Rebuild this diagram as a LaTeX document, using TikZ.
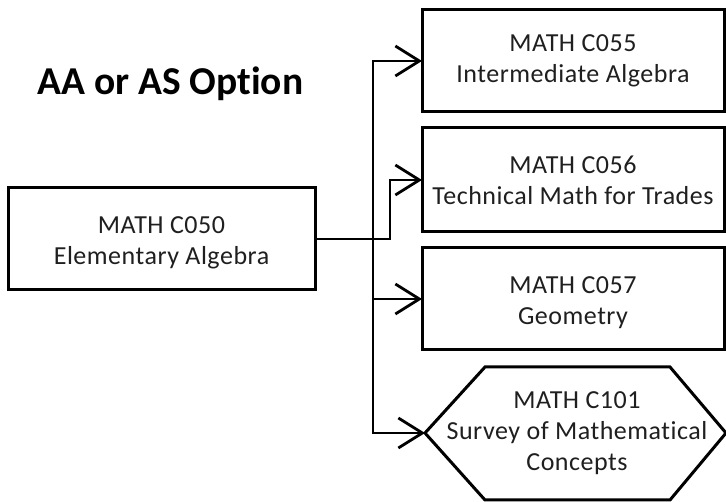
\documentclass[tikz,border=0pt]{standalone}
\usepackage{fontspec}
\setmainfont{Carlito}[Ligatures={NoCommon},LetterSpace=2.0]
\newfontfamily\titlefont{Carlito}[Ligatures={NoCommon}]
\usetikzlibrary{arrows.meta}
\begin{document}
\begin{tikzpicture}[x=1pt,y=-1pt,
  course/.style={draw=black,line width=3pt,fill=white,
    inner sep=0pt,outer sep=0pt},
  coursetext/.style={align=center,inner sep=0pt,text=black!88,font=\fontsize{26}{31}\selectfont},
  conn/.style={draw=black,line width=2.8pt,
    -{Straight Barb[length=24pt,width=30pt,line width=2.8pt]}}]
\useasboundingbox (0,0) rectangle (726,502);
\node[course,minimum width=307pt,minimum height=102pt] (c050) at (161.5,239) {};
\node[coursetext] (c050t) at ([yshift=-4pt]c050.center) {MATH C050\\Elementary Algebra};
\node[course,minimum width=302pt,minimum height=102pt] (c055) at (573,61) {};
\node[coursetext] (c055t) at (c055.center) {MATH C055\\Intermediate Algebra};
\node[course,minimum width=302pt,minimum height=104pt] (c056) at (573,180) {};
\node[coursetext] (c056t) at (c056.center) {MATH C056\\Technical Math for Trades};
\node[course,minimum width=302pt,minimum height=102pt] (c057) at (573,299) {};
\node[coursetext] (c057t) at ([yshift=-4pt]c057.center) {MATH C057\\Geometry};
\draw[line width=3pt,fill=white,line join=miter]
  (425,433) -- (485,367) -- (670,367) -- (726,433) -- (670,500) -- (485,500) -- cycle;
\coordinate (hexW) at (425,433);
\node[coursetext] (c101) at (577,433) {MATH C101\\Survey of Mathematical\\Concepts};
\node[anchor=base west,inner sep=0pt,font=\titlefont\fontsize{39.5}{44}\selectfont\bfseries] (title) at (37,95) {AA or AS Option};
\coordinate (J) at (373,239);
\coordinate (K) at (390,239);
\draw[conn] (c050.east) -- (J) |- (c055.west);
\draw[conn] (J) -- (K) |- (c056.west);
\draw[conn] (J) |- (c057.west);
\draw[conn] (J) |- (hexW);
\end{tikzpicture}
\end{document}
